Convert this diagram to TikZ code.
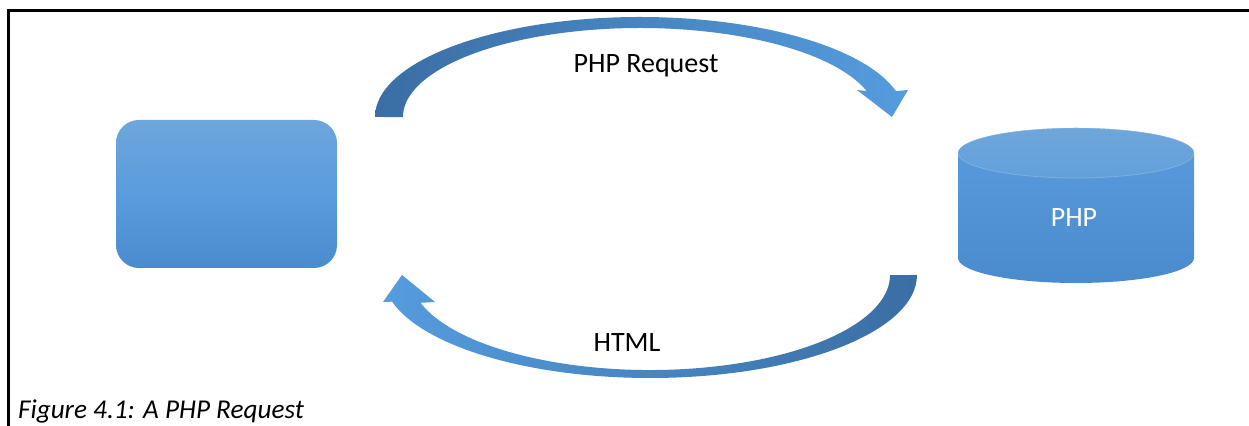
\documentclass[tikz,border=0pt]{standalone}
\usepackage{fontspec}
\setmainfont{Carlito}
\definecolor{boxtop}{HTML}{6EA6DB}
\definecolor{boxmid}{HTML}{5A9CDD}
\definecolor{boxbot}{HTML}{4A8BCD}
\definecolor{lidtop}{HTML}{6FA6DA}
\definecolor{lidbot}{HTML}{62A0DB}
\definecolor{arrowdark}{HTML}{3A6EA4}
\definecolor{arrowlight}{HTML}{559CDE}

\begin{document}
\begin{tikzpicture}[x=0.5pt, y=-0.5pt,
  client/.style={rounded corners=11.5pt, minimum width=110.5pt,
    minimum height=74pt, inner sep=0pt,
    top color=boxtop, bottom color=boxbot, middle color=boxmid},
  label/.style={font=\fontsize{14}{16}\selectfont, anchor=base}]
  \useasboundingbox (0,0) rectangle (1249,426);

  % Frame
  \draw[line width=1.5pt] (1249,11) -- (8,11) -- (8,426);

  % Client box
  \node[client] (browser) at (226.5,194) {};

  % Server cylinder
  \shade[top color=boxmid, bottom color=boxbot] (958,153) -- (958,258)
    arc[start angle=180, end angle=0, x radius=118, y radius=25]
    -- (1194,153)
    arc[start angle=0, end angle=-180, x radius=118, y radius=25] -- cycle;
  \shade[top color=lidtop, bottom color=lidbot] (1076,153)
    ellipse[x radius=118, y radius=25];
  \draw[white, opacity=0.2] (1076,153) ellipse[x radius=118, y radius=25];
  \node[label, text=white] (php) at (1074,227) {PHP};

  % Request arrow
  \shade[left color=arrowdark, right color=arrowlight]
    (375,117) arc[start angle=180, end angle=345, x radius=265, y radius=100]
    -- (908,90) -- (892,117) -- (857,90) -- (866.6,91)
    arc[start angle=343, end angle=180, x radius=237, y radius=89] -- cycle;
  \node[label] (request) at (646,73) {PHP Request};

  % Response arrow
  \shade[left color=arrowlight, right color=arrowdark]
    (917,275) arc[start angle=0, end angle=165, x radius=267, y radius=103]
    -- (383,302) -- (402,275) -- (435,302) -- (420.5,302.8)
    arc[start angle=163, end angle=0, x radius=240, y radius=95] -- cycle;
  \node[label] (html) at (627,352) {HTML};

  % Caption
  \node[label, anchor=base west, font=\fontsize{13.6}{16}\selectfont\itshape]
    (caption) at (11,419) {Figure 4.1: A PHP Request};
\end{tikzpicture}
\end{document}
